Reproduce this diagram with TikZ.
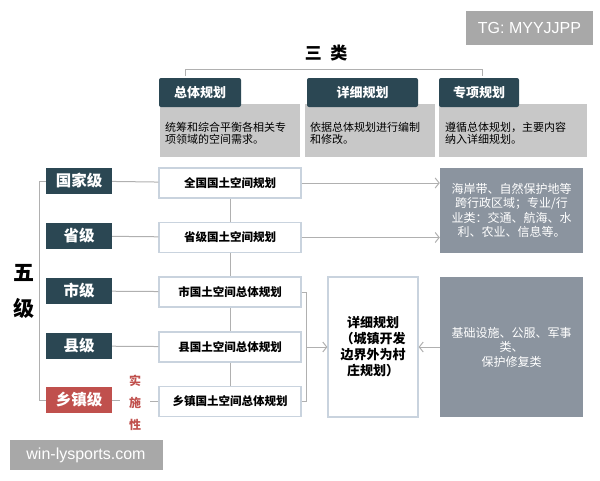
\documentclass[tikz,border=0pt]{standalone}
\usepackage{fontspec}
\setmainfont{Noto Sans CJK SC}
\newfontfamily\latinfont{Liberation Sans}
\usetikzlibrary{arrows.meta}
\definecolor{tealdark}{HTML}{2B4753}
\definecolor{redlevel}{HTML}{C0504D}
\definecolor{headgray}{HTML}{C8C8C8}
\definecolor{slategray}{HTML}{8B949F}
\definecolor{planline}{HTML}{C9D3DE}
\definecolor{linkgray}{HTML}{B0B0B0}
\definecolor{markgray}{HTML}{A8A8A8}
\begin{document}
\begin{tikzpicture}[x=1pt,y=-1pt,
  levelbox/.style={fill=tealdark,text=white,font=\fontsize{15.5}{16}\selectfont\bfseries,minimum width=66pt,minimum height=26pt,inner sep=0pt},
  planbox/.style={draw=planline,line width=1.2pt,fill=white,font=\fontsize{11.5}{13}\selectfont\bfseries,minimum width=142pt,minimum height=30pt,inner sep=0pt},
  tabbox/.style={fill=tealdark,text=white,rounded corners=2pt,font=\fontsize{13}{14}\selectfont\bfseries,minimum height=29pt,inner sep=0pt},
  descbox/.style={fill=headgray,font=\fontsize{11}{12}\selectfont,minimum height=53pt,inner sep=0pt,text width=#1,align=left},
  sidebox/.style={fill=slategray,text=white,font=\fontsize{12}{14.5}\selectfont,minimum width=143pt,inner sep=0pt,align=center},
  link/.style={draw=linkgray,line width=1pt},
  linkarrow/.style={link,-{Straight Barb[length=4pt,width=10pt]}},
  markbox/.style={fill=markgray,text=white,font=\latinfont\fontsize{16}{17}\selectfont,inner sep=0pt}]
\useasboundingbox (0,0) rectangle (600,480);
\node[markbox,minimum width=127pt,minimum height=34pt] (tg) at (529.5,28) {TG: MYYJJPP};
\node[font=\fontsize{17}{18}\selectfont\bfseries] (sanlei) at (326,53) {三\enspace 类};
\draw[link] (185,76) -- (185,69) -- (482,69) -- (482,76);
\node[descbox=130pt,minimum width=140pt] (desczt) at (230,130.5) {\\[2pt]统筹和综合平衡各相关专\\项领域的空间需求。};
\node[descbox=120pt,minimum width=130pt] (descxx) at (370,130.5) {\\[2pt]依据总体规划进行编制\\和修改。};
\node[descbox=136pt,minimum width=148pt] (desczx) at (513,130.5) {\\[2pt]遵循总体规划，主要内容\\纳入详细规划。};
\node[tabbox,minimum width=82pt] (tabzt) at (200,92.5) {总体规划};
\node[tabbox,minimum width=111pt] (tabxx) at (362.5,92.5) {详细规划};
\node[tabbox,minimum width=80pt] (tabzx) at (479,92.5) {专项规划};
\node[font=\fontsize{21}{22}\selectfont\bfseries] (wu) at (24,273) {五};
\node[font=\fontsize{21}{22}\selectfont\bfseries] (ji) at (24,308) {级};
\node[levelbox] (guojia) at (79,181) {国家级};
\node[levelbox] (sheng) at (79,236) {省级};
\node[levelbox] (shi) at (79,291) {市级};
\node[levelbox] (xian) at (79,346) {县级};
\node[levelbox,fill=redlevel] (xiangzhen) at (79,400) {乡镇级};
\node[planbox] (pquanguo) at (230,183) {全国国土空间规划};
\node[planbox] (psheng) at (230,237.5) {省级国土空间规划};
\node[planbox] (pshi) at (230,292) {市国土空间总体规划};
\node[planbox] (pxian) at (230,347) {县国土空间总体规划};
\node[planbox] (pxiangzhen) at (230,401.5) {乡镇国土空间总体规划};
\node[text=redlevel,font=\fontsize{12}{22}\selectfont\bfseries,align=center,inner sep=0pt] (shishi) at (135,403) {实\\施\\性};
\node[planbox,minimum width=90pt,minimum height=140pt,font=\fontsize{13}{16}\selectfont\bfseries,align=center] (detail) at (373,347) {详细规划\\（城镇开发\\边界外为村\\庄规划）};
\node[sidebox,minimum height=85pt] (side1) at (511.5,210.5) {海岸带、自然保护地等\\跨行政区域；专业/行\\业类：交通、航海、水\\利、农业、信息等。};
\node[sidebox,minimum height=140pt] (side2) at (511.5,347) {基础设施、公服、军事\\类、\\保护修复类};
\node[markbox,minimum width=153pt,minimum height=30pt] (site) at (86,455) {win-lysports.com};
\draw[link] (guojia.west) -- ++(-6,0) |- (xiangzhen.west);
\draw[link] (guojia) -- (pquanguo);
\draw[link] (sheng) -- (psheng);
\draw[link] (shi) -- (pshi);
\draw[link] (xian) -- (pxian);
\draw[link] (xiangzhen.east) -- ++(8,0);
\draw[link] (pxiangzhen.west) -- ++(-8,0);
\draw[link] (pquanguo) -- (psheng);
\draw[link] (psheng) -- (pshi);
\draw[link] (pshi) -- (pxian);
\draw[link] (pxian) -- (pxiangzhen);
\draw[linkarrow] (pquanguo.east) -- (pquanguo.east -| side1.west);
\draw[linkarrow] (psheng.east) -- (psheng.east -| side1.west);
\draw[link] (pshi.east) -- ++(5,0) |- (pxiangzhen.east);
\draw[linkarrow] (pxian.east) ++(5,0) -- (detail.west);
\draw[linkarrow] (side2.west) -- (detail.east);
\end{tikzpicture}
\end{document}
